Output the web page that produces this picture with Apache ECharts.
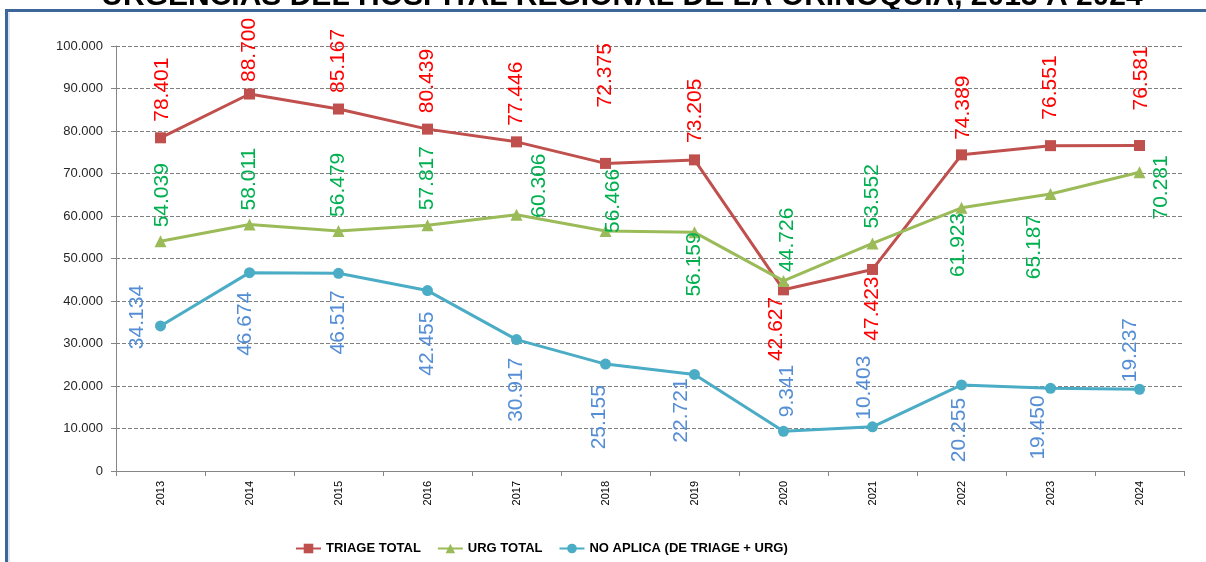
<!DOCTYPE html>
<html>
<head>
<meta charset="utf-8">
<script src="https://cdn.jsdelivr.net/npm/echarts@6/dist/echarts.min.js"></script>
<style>
html,body{margin:0;padding:0;background:#fff;}
#chart{width:1206px;height:562px;}
</style>
</head>
<body>
<div id="chart"></div>
<script>
// ---- data ----
const titleText = 'URGENCIAS DEL HOSPITAL REGIONAL DE LA ORINOQUIA, 2013 A 2024';
const years = ['2013','2014','2015','2016','2017','2018','2019','2020','2021','2022','2023','2024'];
const triageTotal = [78401, 88700, 85167, 80439, 77446, 72375, 73205, 42627, 47423, 74389, 76551, 76581];
const urgTotal    = [54039, 58011, 56479, 57817, 60306, 56466, 56159, 44726, 53552, 61923, 65187, 70281];
const noAplica    = [34134, 46674, 46517, 42455, 30917, 25155, 22721, 9341, 10403, 20255, 19450, 19237];
const yTicks = [0, 10000, 20000, 30000, 40000, 50000, 60000, 70000, 80000, 90000, 100000];

// label placement: [dx, dy, direction] relative to the point (pixels)
const triagePlace = [[2,-16,'up'],[0,-12,'up'],[0,-16,'up'],[0,-16,'up'],[0,-16,'up'],[0,-56,'up'],[1,-17,'up'],[-7,7,'down'],[0,7,'down'],[2,-15,'up'],[0,-26,'up'],[2,-35,'up']];
const urgPlace    = [[2,-14,'up'],[0,-14,'up'],[0,-14,'up'],[0,-15,'up'],[23,3,'up'],[8,2,'up'],[0,0,'down'],[4,-9,'up'],[0,-15,'up'],[-3,5,'down'],[-16,21,'down'],[22,-17,'down']];
const noPlace     = [[-23,-41,'down'],[-4,19,'down'],[0,17,'down'],[0,21,'down'],[0,18,'down'],[-6,21,'down'],[-13,4,'down'],[4,-14,'up'],[-8,-7,'up'],[-2,13,'down'],[-12,7,'down'],[-9,-7,'up']];

function fmt(n){ return String(n).replace(/\B(?=(\d{3})+(?!\d))/g, '.'); }

function build(values, place, size){
  return values.map((v,i)=>{
    const p = place[i];
    return {
      value: v,
      label: {
        position: [p[0] + size/2, p[1] + size/2],
        align: p[2] === 'up' ? 'left' : 'right',
        verticalAlign: 'middle'
      }
    };
  });
}

const labelFont = {fontFamily: 'Liberation Sans, Arial, sans-serif', fontSize: 21, rotate: 90, show: true};

const chart = echarts.init(document.getElementById('chart'), null, {renderer: 'canvas'});
chart.setOption({
  animation: false,
  backgroundColor: '#ffffff',
  graphic: [
    {type: 'text', silent: true, style: {text: titleText, x: 622, y: -3, align: 'center', verticalAlign: 'middle',
      font: 'bold 30px "Liberation Sans", Arial, sans-serif', fill: '#000000'}},
    {type: 'line', silent: true, shape: {x1: 5, y1: 10.5, x2: 1206, y2: 10.5}, style: {stroke: '#3d6699', lineWidth: 3}},
    {type: 'line', silent: true, shape: {x1: 6.5, y1: 9, x2: 6.5, y2: 562}, style: {stroke: '#3d6699', lineWidth: 3}},
    {type: 'line', silent: true, shape: {x1: 9, y1: 12.5, x2: 9, y2: 562}, style: {stroke: '#b9cde5', lineWidth: 1}}
  ],
  grid: {left: 116, right: 22, top: 46, bottom: 91, outerBoundsMode: 'none', containLabel: false},
  legend: {
    left: 290, top: 537,
    itemWidth: 25, itemHeight: 12, itemGap: 16,
    textStyle: {fontFamily: '"Liberation Sans", Arial, sans-serif', fontWeight: 'bold', fontSize: 13, color: '#000000'},
    data: ['TRIAGE TOTAL', 'URG TOTAL', 'NO APLICA (DE TRIAGE + URG)']
  },
  xAxis: {
    type: 'category',
    data: years,
    boundaryGap: true,
    axisLine: {lineStyle: {color: '#868686', width: 1}},
    axisTick: {show: true, length: 5, lineStyle: {color: '#868686'}},
    axisLabel: {rotate: 90, fontSize: 11, color: '#000000', fontFamily: 'Liberation Sans, Arial, sans-serif', margin: 10},
    splitLine: {show: false}
  },
  yAxis: {
    type: 'value',
    min: 0, max: 100000, interval: 10000,
    axisLine: {show: true, lineStyle: {color: '#868686', width: 1}},
    axisTick: {show: true, length: 5, lineStyle: {color: '#868686'}},
    axisLabel: {fontSize: 13, color: '#262626', fontFamily: 'Liberation Sans, Arial, sans-serif', margin: 13,
      formatter: v => yTicks.indexOf(v) >= 0 ? fmt(v) : ''},
    splitLine: {show: true, lineStyle: {color: '#808080', type: [4, 2], width: 1}}
  },
  series: [
    {
      name: 'TRIAGE TOTAL', type: 'line', data: build(triageTotal, triagePlace, 11),
      symbol: 'rect', symbolSize: 11, showAllSymbol: true,
      itemStyle: {color: '#c0504d'}, lineStyle: {color: '#c0504d', width: 3},
      label: Object.assign({color: '#ff0000', formatter: p => fmt(p.value)}, labelFont),
      emphasis: {disabled: true}, z: 3
    },
    {
      name: 'URG TOTAL', type: 'line', data: build(urgTotal, urgPlace, 12),
      symbol: 'triangle', symbolSize: 12, showAllSymbol: true,
      itemStyle: {color: '#9bbb59'}, lineStyle: {color: '#9bbb59', width: 3},
      label: Object.assign({color: '#00b050', formatter: p => fmt(p.value)}, labelFont),
      emphasis: {disabled: true}, z: 3
    },
    {
      name: 'NO APLICA (DE TRIAGE + URG)', type: 'line', data: build(noAplica, noPlace, 11),
      symbol: 'circle', symbolSize: 11, showAllSymbol: true,
      itemStyle: {color: '#4bacc6'}, lineStyle: {color: '#4bacc6', width: 3},
      label: Object.assign({color: '#558ed5', formatter: p => fmt(p.value)}, labelFont),
      emphasis: {disabled: true}, z: 3
    }
  ]
});
</script>
</body>
</html>
